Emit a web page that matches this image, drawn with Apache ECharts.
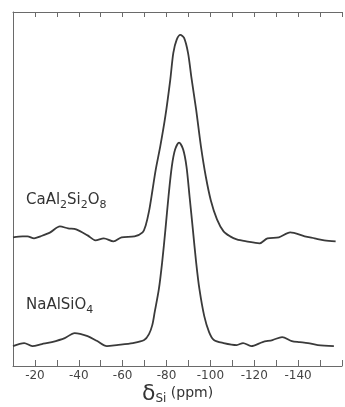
<!DOCTYPE html>
<html>
<head>
<meta charset="utf-8">
<script src="https://cdn.jsdelivr.net/npm/echarts@6/dist/echarts.min.js"></script>
<style>
  html, body { margin: 0; padding: 0; background: #fff; }
  #chart { width: 345px; height: 407px; }
</style>
</head>
<body>
<div id="chart"></div>
<script>
// chemical shift (ppm) and intensity (arbitrary units)
const caShift = [-10, -14.4, -16.6, -19.6, -22.5, -27.0, -31.4, -35.1, -38.8, -44.0, -47.6, -51.4, -55.8, -59.5,
  -65.4, -69.1, -70.5, -72.0, -73.5, -75.0, -77.2, -79.5, -81.7, -83.1, -84.6, -86.3, -88.0, -89.8, -91.3, -93.5,
  -95.7, -97.9, -100.2, -103.0, -106.0, -109.0, -112.0, -116.4, -122.4, -126.0, -131.2, -136.4, -143.0, -147.5,
  -151.9, -157.1];
const caIntensity = [129, 130, 130, 128, 130, 134, 140, 138, 137, 131, 126, 128, 125, 129,
  130, 134, 141, 155, 175, 196, 221, 251, 287, 314, 327, 332, 329, 314, 290, 257,
  220, 190, 166, 147, 135, 130, 127, 125, 123, 128, 129, 134, 130, 128,
  126, 125];

const naShift = [-10, -15.1, -18.8, -23.2, -27.7, -33.6, -38.1, -44.0, -48.4, -52.8, -57.3, -64.7, -69.8, -72.0,
  -73.5, -74.6, -76.5, -78.0, -79.5, -80.9, -82.4, -83.9, -85.7, -87.6, -89.1, -90.5, -92.0, -93.5, -95.0, -97.2,
  -99.4, -101.6, -106.0, -112.0, -114.9, -118.6, -123.8, -128.3, -132.7, -137.1, -140.8, -144.5, -149.0, -156.3];
const naIntensity = [20, 23, 20, 22, 24, 28, 33, 30, 25, 20, 21, 23, 26, 32,
  41, 54, 77, 104, 137, 170, 200, 217, 224, 217, 200, 170, 137, 104, 77, 50,
  34, 26, 23, 21, 23, 20, 24, 26, 29, 25, 24, 23, 21, 20];

const tickLabels = [-20, -40, -60, -80, -100, -120, -140];

const zip = (xs, ys) => xs.map((x, i) => [x, ys[i]]);

const chart = echarts.init(document.getElementById('chart'));

const axisGray = '#6a6a6a';
const ink = '#3a3a3a';

const option = {
  backgroundColor: '#fff',
  animation: false,
  grid: { left: 13, right: -7, top: 12, bottom: 41 },
  xAxis: [
    {
      type: 'value',
      inverse: true,
      min: -160,
      max: -10,
      interval: 10,
      position: 'bottom',
      axisLine: { lineStyle: { color: axisGray, width: 1 } },
      axisTick: { inside: true, length: 6, lineStyle: { color: axisGray } },
      splitLine: { show: false },
      axisLabel: {
        margin: 4,
        color: '#444',
        fontFamily: 'DejaVu Sans',
        fontSize: 12,
        formatter: v => (tickLabels.includes(v) ? String(v) : '')
      }
    },
    {
      type: 'value',
      inverse: true,
      min: -160,
      max: -10,
      interval: 10,
      position: 'top',
      axisLine: { lineStyle: { color: axisGray, width: 1 } },
      axisTick: { inside: true, length: 5, lineStyle: { color: axisGray } },
      splitLine: { show: false },
      axisLabel: { show: false }
    }
  ],
  yAxis: {
    type: 'value',
    min: 0,
    max: 355,
    axisLine: { show: true, lineStyle: { color: axisGray, width: 1 } },
    axisTick: { show: false },
    axisLabel: { show: false },
    splitLine: { show: false }
  },
  series: [
    {
      name: 'CaAl2Si2O8',
      type: 'line',
      data: zip(caShift, caIntensity),
      smooth: 0.3,
      showSymbol: false,
      lineStyle: { color: ink, width: 1.8 }
    },
    {
      name: 'NaAlSiO4',
      type: 'line',
      data: zip(naShift, naIntensity),
      smooth: 0.3,
      showSymbol: false,
      lineStyle: { color: ink, width: 1.8 }
    }
  ],
  graphic: [
    {
      type: 'text',
      left: 26,
      top: 191,
      style: {
        text: '{m|CaAl}{s|2}{m|Si}{s|2}{m|O}{s|8}',
        fill: '#333',
        rich: {
          m: { fontFamily: 'DejaVu Sans', fontSize: 15, lineHeight: 18, verticalAlign: 'top', fill: '#333' },
          s: { fontFamily: 'DejaVu Sans', fontSize: 11, lineHeight: 12, verticalAlign: 'bottom', padding: [9, 0, 0, 0], fill: '#333' }
        }
      }
    },
    {
      type: 'text',
      left: 26,
      top: 296,
      style: {
        text: '{m|NaAlSiO}{s|4}',
        fill: '#333',
        rich: {
          m: { fontFamily: 'DejaVu Sans', fontSize: 15, lineHeight: 18, verticalAlign: 'top', fill: '#333' },
          s: { fontFamily: 'DejaVu Sans', fontSize: 11, lineHeight: 12, verticalAlign: 'bottom', padding: [9, 0, 0, 0], fill: '#333' }
        }
      }
    },
    {
      type: 'text',
      left: 142,
      top: 381,
      style: {
        text: '{d|δ}{s|Si}{p| (ppm)}',
        fill: '#333',
        rich: {
          d: { fontFamily: 'DejaVu Sans', fontSize: 22, lineHeight: 22, verticalAlign: 'top', fill: '#333' },
          s: { fontFamily: 'DejaVu Sans', fontSize: 12, lineHeight: 13, verticalAlign: 'bottom', padding: [12, 0, 0, 0], fill: '#333' },
          p: { fontFamily: 'DejaVu Sans', fontSize: 14, lineHeight: 18, verticalAlign: 'top', padding: [3, 0, 0, 0], fill: '#333' }
        }
      }
    }
  ]
};

chart.setOption(option);
</script>
</body>
</html>
